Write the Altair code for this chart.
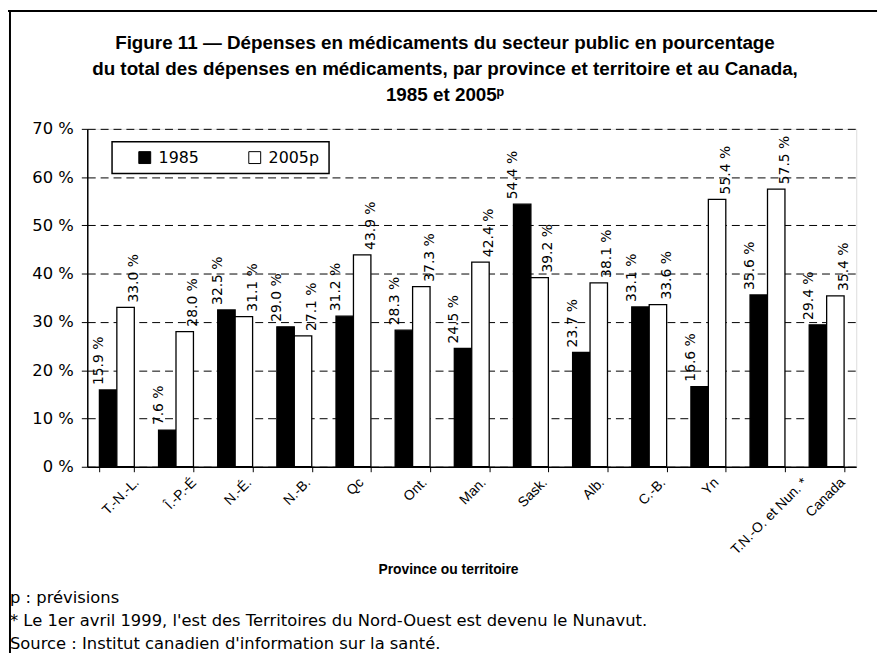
import altair as alt
import pandas as pd

categories = ["T.-N.-L.", "Î.-P.-É", "N.-É.", "N.-B.", "Qc", "Ont.", "Man.", "Sask.",
              "Alb.", "C.-B.", "Yn", "T.N.-O. et Nun. *", "Canada"]
values_1985 = [15.9, 7.6, 32.5, 29.0, 31.2, 28.3, 24.5, 54.4, 23.7, 33.1, 16.6, 35.6, 29.4]
values_2005 = [33.0, 28.0, 31.1, 27.1, 43.9, 37.3, 42.4, 39.2, 38.1, 33.6, 55.4, 57.5, 35.4]
series = ["1985", "2005p"]
y_ticks = [0, 10, 20, 30, 40, 50, 60, 70]
title_lines = [
    "Figure 11 — Dépenses en médicaments du secteur public en pourcentage",
    "du total des dépenses en médicaments, par province et territoire et au Canada,",
    "1985 et 2005ᵖ",
]
x_title = "Province ou territoire"
footnotes = [
    "p : prévisions",
    "* Le 1er avril 1999, l'est des Territoires du Nord-Ouest est devenu le Nunavut.",
    "Source : Institut canadien d'information sur la santé.",
]

rows = []
for c, a, b in zip(categories, values_1985, values_2005):
    rows.append({"cat": c, "series": series[0], "value": a})
    rows.append({"cat": c, "series": series[1], "value": b})
df = pd.DataFrame(rows)
cat_df = pd.DataFrame({"cat": categories})

PLOT_W, PLOT_H = 776, 341
PAD_L, PAD_T, PAD_R, PAD_B = 80, 119, 25, 188

BOLD = "Liberation Sans"
SANS = "DejaVu Sans"

x = alt.X(
    "cat:N", sort=categories,
    scale=alt.Scale(paddingInner=0.41, paddingOuter=0.205),
    axis=alt.Axis(
        title=x_title, labels=False,
        tickBand="extent", ticks=True, tickSize=5, tickColor="black",
        domainColor="black", domainWidth=1.5, grid=False,
        titleFont=BOLD, titleFontSize=14, titleFontWeight="bold", titleColor="black",
        titleX=364, titleY=104, titleAlign="center", titleBaseline="middle",
    ),
)
xo = alt.XOffset("series:N", sort=series, scale=alt.Scale(paddingInner=0, paddingOuter=0))
y = alt.Y(
    "value:Q",
    scale=alt.Scale(domain=[0, 70], nice=False),
    axis=alt.Axis(
        title=None, values=y_ticks, labelExpr="datum.value + ' %'",
        labelFont=SANS, labelFontSize=16.5, labelColor="black", labelPadding=8,
        grid=True, gridDash=[8, 5], gridColor="black", gridWidth=1, gridOpacity=1,
        tickSize=6, tickColor="black", domainColor="black", domainWidth=1.5,
    ),
)
color = alt.Color(
    "series:N", sort=series,
    scale=alt.Scale(domain=series, range=["black", "white"]),
    legend=alt.Legend(
        title=None, orient="none", legendX=50, legendY=21, direction="horizontal",
        padding=0, symbolType="square", symbolSize=144, symbolStrokeColor="black",
        symbolStrokeWidth=1, labelOffset=6,
        labelFont=SANS, labelFontSize=16, labelColor="black", columnPadding=48,
    ),
)

base = alt.Chart(df)
one = pd.DataFrame({"k": [0]})

legend_box = alt.Chart(one).mark_rect(fill="white", stroke="black", strokeWidth=1.5).encode(
    x=alt.value(25), x2=alt.value(244), y=alt.value(13), y2=alt.value(45))

bars = base.mark_bar(stroke="black", strokeWidth=1.3).encode(x=x, xOffset=xo, y=y, color=color)
labels = base.transform_calculate(
    lab="format(datum.value, '.1f') + ' %'"
).mark_text(angle=270, align="left", baseline="middle", dx=5, font=SANS, fontSize=14,
            color="black").encode(x=alt.X("cat:N", sort=categories), xOffset=xo,
                                  y=alt.Y("value:Q"), text="lab:N")

xlabels = alt.Chart(cat_df).transform_calculate(
    off="length(datum.cat) * 2.0 + 17"
).mark_text(angle=315, align="right", baseline="top", font="Liberation Sans",
            fontSize=14, color="black").encode(
    x=alt.X("cat:N", sort=categories),
    xOffset=alt.XOffset("off:Q", scale=None),
    y=alt.value(PLOT_H + 9),
    text="cat:N",
)

border_top = alt.Chart(one).mark_rule(color="black", strokeWidth=2).encode(
    x=alt.value(-PAD_L), x2=alt.value(PLOT_W + PAD_R - 4), y=alt.value(-PAD_T))
border_left = alt.Chart(one).mark_rule(color="black", strokeWidth=2).encode(
    x=alt.value(-PAD_L + 2), y=alt.value(-PAD_T), y2=alt.value(PLOT_H + PAD_B))

title_layers = []
for txt, yy in zip(title_lines, [-87, -60, -34]):
    title_layers.append(
        alt.Chart(pd.DataFrame({"t": [txt]})).mark_text(
            align="center", baseline="middle", font=BOLD, fontSize=19, fontWeight="bold",
            color="black"
        ).encode(x=alt.value(361), y=alt.value(yy), text="t:N")
    )

note_layers = []
for txt, yy in zip(footnotes, [473, 497, 520]):
    note_layers.append(
        alt.Chart(pd.DataFrame({"t": [txt]})).mark_text(
            align="left", baseline="middle", font=SANS, fontSize=16.5, color="black"
        ).encode(x=alt.value(-PAD_L + 2), y=alt.value(yy), text="t:N")
    )

chart = alt.layer(
    legend_box, bars, labels, xlabels, border_top, border_left, *title_layers, *note_layers
).resolve_scale(xOffset="independent").properties(
    width=PLOT_W, height=PLOT_H,
    autosize=alt.AutoSizeParams(type="none"),
    padding={"left": PAD_L, "top": PAD_T, "right": PAD_R, "bottom": PAD_B},
).configure_view(stroke=None).configure(background="white")

chart.save("out.html", embed_options={"renderer": "svg", "actions": False})
